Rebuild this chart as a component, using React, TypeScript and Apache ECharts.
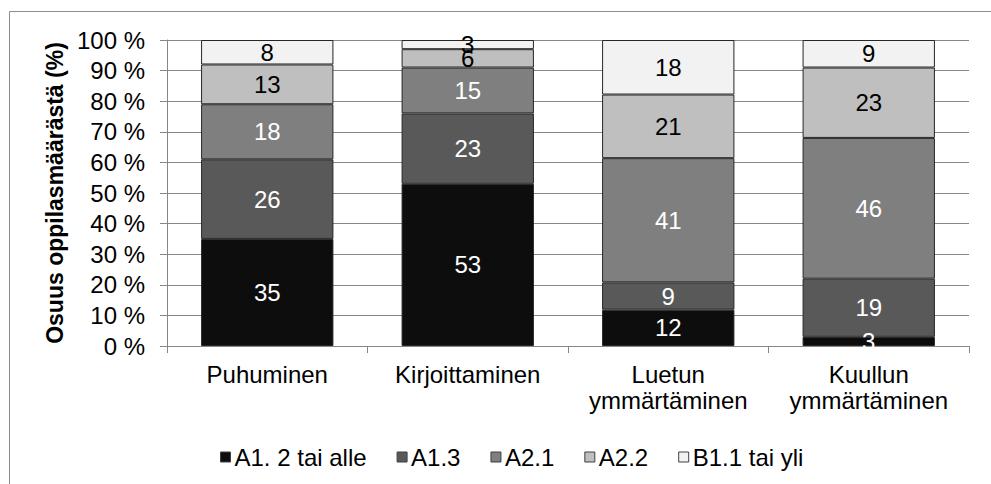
import React, { useEffect, useRef } from "react";
import * as echarts from "echarts";

const categories = ["Puhuminen", "Kirjoittaminen", "Luetun\nymmärtäminen", "Kuullun\nymmärtäminen"];
const seriesNames = ["A1. 2 tai alle", "A1.3", "A2.1", "A2.2", "B1.1 tai yli"];
const a12 = [35, 53, 12, 3];
const a13 = [26, 23, 9, 19];
const a21 = [18, 15, 41, 46];
const a22 = [13, 6, 21, 23];
const b11 = [8, 3, 18, 9];
const yTicks = [0, 10, 20, 30, 40, 50, 60, 70, 80, 90, 100];

const colors = ["#0d0d0d", "#595959", "#7f7f7f", "#bfbfbf", "#f2f2f2"];
const labelColors = ["#ffffff", "#ffffff", "#ffffff", "#000000", "#000000"];

export default function App() {
  const ref = useRef<HTMLDivElement>(null);
  useEffect(() => {
    if (!ref.current) return;
    const chart = echarts.init(ref.current, undefined, { renderer: "svg" });
    const data = [a12, a13, a21, a22, b11];
    // 100 % stacked: each column is scaled to its own total, labels show the raw counts
    const totals = categories.map((_, c) => data.reduce((s, arr) => s + arr[c], 0));
    const font = "Liberation Sans, Arial, sans-serif";
    chart.setOption({
      animation: false,
      textStyle: { fontFamily: font },
      graphic: [
        {
          type: "rect",
          shape: { x: 9.5, y: 11.5, width: 1000, height: 500 },
          style: { fill: "none", stroke: "#8c8c8c", lineWidth: 1 },
          silent: true,
        },
      ],
      grid: { left: 167, right: 22, top: 40, bottom: 138 },
      legend: {
        top: 440,
        left: 215,
        itemWidth: 10,
        itemHeight: 10,
        itemGap: 30,
        icon: "rect",
        textStyle: { fontSize: 24, color: "#000", fontFamily: font, padding: [0, 0, 0, -1] },
        data: seriesNames.map((n, i) => ({
          name: n,
          itemStyle: { color: colors[i], borderColor: "#404040", borderWidth: 1 },
        })),
      },
      xAxis: {
        type: "category",
        data: categories,
        axisLine: { lineStyle: { color: "#868686", width: 1 } },
        axisTick: { show: true, length: 7, lineStyle: { color: "#868686" } },
        axisLabel: {
          interval: 0,
          fontSize: 24,
          color: "#000",
          lineHeight: 26,
          margin: 15,
          fontFamily: font,
        },
      },
      yAxis: {
        type: "value",
        min: 0,
        max: 100,
        interval: 10,
        name: "Osuus oppilasmäärästä (%)",
        nameLocation: "middle",
        nameGap: 100,
        nameTextStyle: { fontSize: 23, fontWeight: "bold", color: "#000", fontFamily: font },
        axisLine: { show: true, lineStyle: { color: "#868686", width: 1 } },
        axisTick: { show: true, length: 7, lineStyle: { color: "#868686" } },
        axisLabel: {
          fontSize: 24,
          color: "#000",
          margin: 22,
          fontFamily: font,
          formatter: (v: number) => (yTicks.includes(v) ? `${v} %` : ""),
        },
        splitLine: { show: true, lineStyle: { color: "#868686", width: 1 } },
      },
      series: seriesNames.map((n, i) => ({
        name: n,
        type: "bar",
        stack: "total",
        barWidth: "66%",
        data: data[i].map((v, c) => ({ value: (v / totals[c]) * 100, raw: v })),
        itemStyle: { color: colors[i], borderColor: "#262626", borderWidth: 1 },
        label: {
          show: true,
          position: "inside",
          fontSize: 24,
          color: labelColors[i],
          fontFamily: font,
          formatter: (p: any) => String(p.data.raw),
        },
      })),
    });
    return () => chart.dispose();
  }, []);
  return (
    <div
      ref={ref}
      style={{ position: "fixed", left: 0, top: 0, width: 991, height: 484, background: "#fff" }}
    />
  );
}
